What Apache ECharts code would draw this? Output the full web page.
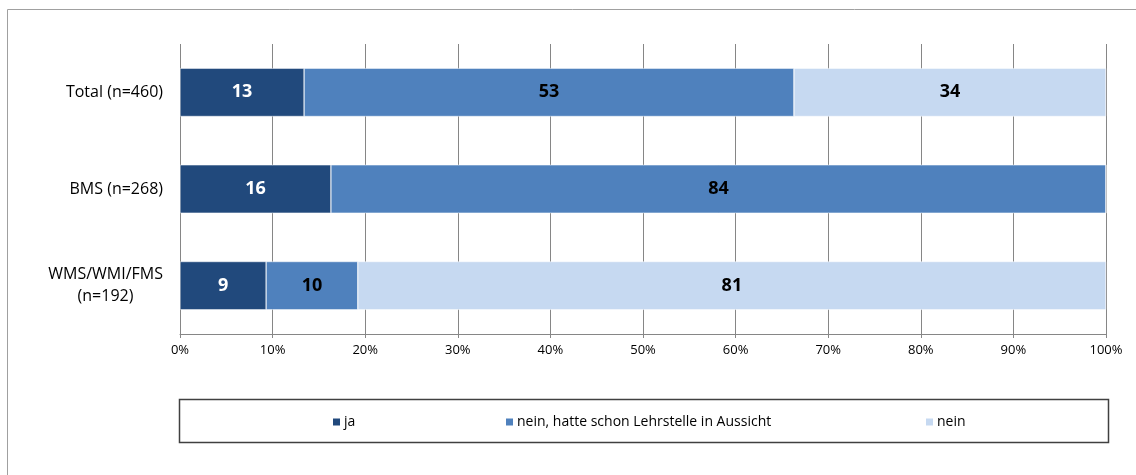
<!DOCTYPE html>
<html>
<head>
<meta charset="utf-8">
<script src="https://cdn.jsdelivr.net/npm/echarts@6/dist/echarts.min.js"></script>
<style>
    html, body {margin: 0; padding: 0; background: #fff;}
    #chart {width: 1136px; height: 475px;}
</style>
</head>
<body>
<div id="chart"></div>
<script>
// Kategorien (von oben nach unten)
var categories = ["Total (n=460)", "BMS (n=268)", "WMS/WMI/FMS\n(n=192)"];
var seriesNames = ["ja", "nein, hatte schon Lehrstelle in Aussicht", "nein"];
// Werte in Prozent
var jaValues = [13.4, 16.3, 9.3];
var neinLehrValues = [52.9, 83.7, 9.9];
var neinValues = [33.7, 0, 80.8];
// Beschriftungen wie im Original
var jaLabels = ["13", "16", "9"];
var neinLehrLabels = ["53", "84", "10"];
var neinLabels = ["34", "", "81"];
var tickLabels = ["0%", "10%", "20%", "30%", "40%", "50%", "60%", "70%", "80%", "90%", "100%"];

var colors = ["#21497c", "#4f81bd", "#c6d9f1"];
var fontFamily = "'Open Sans', 'Noto Sans', sans-serif";

function makeSeries(name, values, labels, color, labelColor) {
    return {
        name: name,
        type: 'bar',
        stack: 'total',
        barWidth: '50%',
        itemStyle: {color: color, borderColor: '#ffffff', borderWidth: 0.5},
        label: {
            show: true,
            position: 'inside',
            color: labelColor,
            fontWeight: 'bold',
            fontSize: 18,
            fontFamily: fontFamily,
            formatter: function (p) {
                return labels[p.dataIndex];
            }
        },
        data: values
    };
}

// mehrzeilige Kategorie: zweite Zeile zentriert unter der ersten
function categoryLabel(value) {
    let parts = value.split("\n");
    if (parts.length === 1) {
        return "{a|" + parts[0] + "}";
    }
    return "{a|" + parts[0] + "}\n{b|" + parts[1] + "}";
}

var myChart = echarts.init(document.getElementById('chart'));
var option = {
    animation: false,
    color: colors,
    graphic: [
        {
            type: 'rect',
            shape: {x: 7.5, y: 9.5, width: 1160, height: 500},
            style: {fill: 'none', stroke: '#a0a0a0', lineWidth: 1}
        },
        {
            type: 'rect',
            shape: {x: 179.5, y: 399.5, width: 929, height: 43},
            style: {fill: 'none', stroke: '#404040', lineWidth: 1.5}
        }
    ],
    legend: [
        {data: [seriesNames[0]], left: 326, top: 410},
        {data: [seriesNames[1]], left: 499, top: 410},
        {data: [seriesNames[2]], left: 919, top: 410}
    ].map(function (l) {
        l.icon = 'rect';
        l.itemWidth = 9;
        l.itemHeight = 9;
        l.itemGap = 3;
        l.textStyle = {fontSize: 14, color: '#000', fontFamily: fontFamily, padding: [0, 0, 0, -2]};
        return l;
    }),
    grid: {left: 180, right: 30, top: 44, bottom: 141, containLabel: false},
    xAxis: {
        type: 'value',
        min: 0,
        max: 100,
        interval: 10,
        axisLine: {show: true, lineStyle: {color: '#868686'}},
        axisTick: {show: true, length: 4, lineStyle: {color: '#868686'}},
        splitLine: {show: true, lineStyle: {color: '#868686', width: 1}},
        axisLabel: {
            color: '#000',
            fontSize: 13,
            fontFamily: fontFamily,
            margin: 10,
            formatter: function (v) {
                return tickLabels[Math.round(v / 10)];
            }
        }
    },
    yAxis: {
        type: 'category',
        inverse: true,
        data: categories,
        axisLine: {show: false},
        axisTick: {show: false},
        axisLabel: {
            color: '#000',
            fontSize: 16,
            fontFamily: fontFamily,
            margin: 17,
            formatter: categoryLabel,
            rich: {
                a: {fontSize: 16, fontFamily: fontFamily, color: '#000', lineHeight: 22},
                b: {fontSize: 16, fontFamily: fontFamily, color: '#000', lineHeight: 22, width: 115, align: 'center'}
            }
        }
    },
    series: [
        makeSeries(seriesNames[0], jaValues, jaLabels, colors[0], '#ffffff'),
        makeSeries(seriesNames[1], neinLehrValues, neinLehrLabels, colors[1], '#000000'),
        makeSeries(seriesNames[2], neinValues, neinLabels, colors[2], '#000000')
    ]
};
myChart.setOption(option);
</script>
</body>
</html>
